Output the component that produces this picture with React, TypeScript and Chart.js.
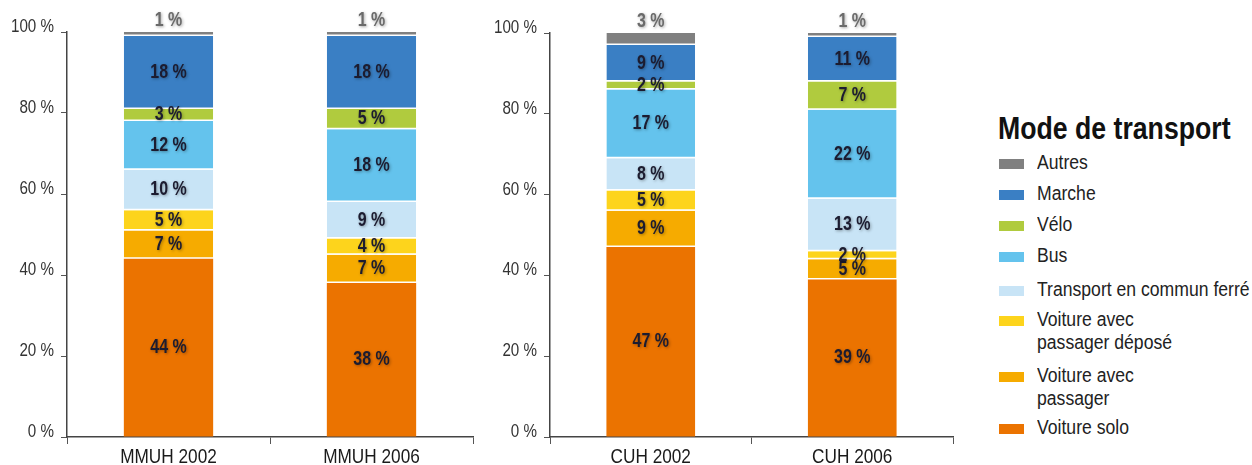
import React, { useEffect, useRef } from "react";
import { Chart, registerables } from "chart.js";

Chart.register(...registerables);

const FONT = "'Liberation Sans', Arial, sans-serif";
const SQUEEZE = 0.82; // condensed look of the original typeface

const categoriesLeft = ["MMUH 2002", "MMUH 2006"];
const categoriesRight = ["CUH 2002", "CUH 2006"];

// values per category: [MMUH 2002, MMUH 2006, CUH 2002, CUH 2006]
const voitureSolo = [44, 38, 47, 39];
const voitureAvecPassager = [7, 7, 9, 5];
const voitureDepose = [5, 4, 5, 2];
const tcFerre = [10, 9, 8, 13];
const bus = [12, 18, 17, 22];
const velo = [3, 5, 2, 7];
const marche = [18, 18, 9, 11];
const autres = [1, 1, 3, 1];

const yTicks = [0, 20, 40, 60, 80, 100];

const seriesNames = [
  "Voiture solo",
  "Voiture avec passager",
  "Voiture avec passager déposé",
  "Transport en commun ferré",
  "Bus",
  "Vélo",
  "Marche",
  "Autres",
];
const seriesValues = [voitureSolo, voitureAvecPassager, voitureDepose, tcFerre, bus, velo, marche, autres];
const seriesColors = ["#eb7300", "#f6ab00", "#fdd41c", "#c8e4f6", "#64c3ed", "#b0cb3e", "#3a7fc4", "#808080"];

const legendTitle = "Mode de transport";
const legendLines = [
  ["Autres"],
  ["Marche"],
  ["Vélo"],
  ["Bus"],
  ["Transport en commun ferré"],
  ["Voiture avec", "passager déposé"],
  ["Voiture avec", "passager"],
  ["Voiture solo"],
];
const legendColors = ["#808080", "#3a7fc4", "#b0cb3e", "#64c3ed", "#c8e4f6", "#fdd41c", "#f6ab00", "#eb7300"];

function squeezedText(ctx: any, txt: string, x: number, y: number) {
  ctx.save();
  ctx.translate(x, y);
  ctx.scale(SQUEEZE, 1);
  ctx.fillText(txt, 0, 0);
  ctx.restore();
}

const labelPlugin = {
  id: "segLabels",
  afterDraw(chart: any) {
    const ctx = chart.ctx;
    const xs = chart.scales.x;
    const ys = chart.scales.y;
    ctx.save();
    // axis tick labels
    ctx.fillStyle = "#333";
    ctx.font = `18.5px ${FONT}`;
    ctx.textAlign = "right";
    ctx.textBaseline = "alphabetic";
    yTicks.forEach((v) => {
      squeezedText(ctx, `${v} %`, chart.chartArea.left - 13, ys.getPixelForValue(v));
    });
    ctx.fillStyle = "#1a1a1a";
    ctx.font = `21px ${FONT}`;
    ctx.textAlign = "center";
    chart.data.labels.forEach((l: string, i: number) => {
      squeezedText(ctx, l, xs.getPixelForValue(i), chart.chartArea.bottom + 26);
    });
    // segment labels
    ctx.textAlign = "center";
    ctx.textBaseline = "middle";
    ctx.font = `bold 19.5px ${FONT}`;
    const n = chart.data.datasets.length;
    chart.data.datasets.forEach((ds: any, di: number) => {
      const meta = chart.getDatasetMeta(di);
      meta.data.forEach((bar: any, i: number) => {
        const v = ds.data[i];
        const txt = `${v} %`;
        ctx.shadowColor = "rgba(0,0,0,0.35)";
        ctx.shadowBlur = 3;
        ctx.shadowOffsetX = 1;
        ctx.shadowOffsetY = 1;
        if (di === n - 1) {
          ctx.fillStyle = "#6a6a6a";
          squeezedText(ctx, txt, bar.x, Math.min(bar.y, bar.base) - 11);
        } else {
          ctx.fillStyle = "#1c1c30";
          squeezedText(ctx, txt, bar.x, (bar.y + bar.base) / 2);
        }
      });
    });
    ctx.restore();
  },
};

function makeConfig(labels: string[], offset: number, yWidth: number, top: number) {
  return {
    type: "bar" as const,
    data: {
      labels,
      datasets: seriesNames.map((name, si) => ({
        label: name,
        data: seriesValues[si].slice(offset, offset + 2),
        backgroundColor: seriesColors[si],
        borderColor: "#ffffff",
        borderWidth: si === 0 ? 0 : { top: 0, left: 0, right: 0, bottom: 1.5 },
        borderSkipped: false,
        barPercentage: 0.44,
        categoryPercentage: 1,
      })),
    },
    options: {
      responsive: false,
      animation: false,
      layout: { padding: { top, right: 7, left: 0, bottom: 0 } },
      plugins: { legend: { display: false }, tooltip: { enabled: false } },
      scales: {
        x: {
          stacked: true,
          afterFit: (s: any) => {
            s.height = 28;
          },
          border: { display: true, color: "#444", width: 1.5 },
          grid: { display: true, drawOnChartArea: false, drawTicks: true, tickLength: 7, color: "#555", lineWidth: 1 },
          ticks: { display: false },
        },
        y: {
          stacked: true,
          min: 0,
          max: 100,
          afterFit: (s: any) => {
            s.width = yWidth;
          },
          afterBuildTicks: (s: any) => {
            s.ticks = yTicks.map((v) => ({ value: v }));
          },
          border: { display: true, color: "#444", width: 1.5 },
          grid: { display: true, drawOnChartArea: false, drawTicks: true, tickLength: 6, color: "#555", lineWidth: 1 },
          ticks: { display: false },
        },
      },
    },
    plugins: [labelPlugin],
  };
}

function BarPanel({ labels, offset, left, yWidth, top }: { labels: string[]; offset: number; left: number; yWidth: number; top: number }) {
  const ref = useRef<HTMLCanvasElement | null>(null);
  useEffect(() => {
    if (!ref.current) return;
    const chart = new Chart(ref.current, makeConfig(labels, offset, yWidth, top) as any);
    return () => chart.destroy();
  }, []);
  return (
    <canvas
      ref={ref}
      width={480}
      height={465}
      style={{ position: "absolute", left, top: 0, width: 480, height: 465 }}
    />
  );
}

export default function App() {
  const rowTops = [151, 182, 213, 244, 278, 308, 364, 416];
  return (
    <div style={{ position: "absolute", left: 0, top: 0, width: 1252, height: 465, background: "#fff", overflow: "hidden" }}>
      <BarPanel labels={categoriesLeft} offset={0} left={0} yWidth={67} top={32} />
      <BarPanel labels={categoriesRight} offset={2} left={480} yWidth={70} top={33} />
      <div
        style={{
          position: "absolute",
          left: 998,
          top: 112,
          fontFamily: FONT,
          fontWeight: "bold",
          fontSize: 31,
          lineHeight: "34px",
          color: "#111",
          whiteSpace: "nowrap",
          transform: "scaleX(0.86)",
          transformOrigin: "left center",
        }}
      >
        {legendTitle}
      </div>
      {legendLines.map((lines, i) => (
        <div key={i} style={{ position: "absolute", left: 999, top: rowTops[i], fontFamily: FONT, fontSize: 20, lineHeight: "23px", color: "#222", whiteSpace: "nowrap" }}>
          <span style={{ position: "absolute", left: 0, top: 8, width: 25, height: 10, background: legendColors[i] }} />
          <div style={{ marginLeft: 38, transform: "scaleX(0.88)", transformOrigin: "left center" }}>
            {lines.map((l, j) => (
              <div key={j}>{l}</div>
            ))}
          </div>
        </div>
      ))}
    </div>
  );
}
